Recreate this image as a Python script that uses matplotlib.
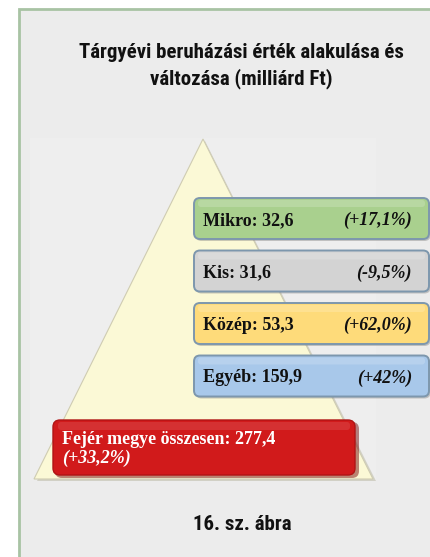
import matplotlib
matplotlib.use("Agg")
import matplotlib.pyplot as plt
from matplotlib import font_manager
from matplotlib.patches import Polygon, FancyBboxPatch, Rectangle

# data
title = "Tárgyévi beruházási érték alakulása és\nváltozása (milliárd Ft)"
caption = "16. sz. ábra"
categories = ["Mikro", "Kis", "Közép", "Egyéb"]
values = ["32,6", "31,6", "53,3", "159,9"]
changes = ["(+17,1%)", "(-9,5%)", "(+62,0%)", "(+42%)"]
box_colors = ["#a9d08e", "#d3d3d3", "#fedb7a", "#a8c8ea"]
total_label = "Fejér megye összesen"
total_value = "277,4"
total_change = "(+33,2%)"

# pick a narrow sans for the headings if one is installed
installed = {f.name for f in font_manager.fontManager.ttflist}
cond_name = "DejaVu Sans"
for name in ["Roboto Condensed", "Barlow Condensed", "Liberation Sans Narrow", "Archivo Narrow"]:
    if name in installed:
        cond_name = name
        break
cond = [cond_name, "DejaVu Sans"]
serif = ["Liberation Serif", "DejaVu Serif"]

W, H = 430, 557
fig = plt.figure(figsize=(W / 100, H / 100), dpi=100)
fig.patch.set_facecolor("white")
ax = fig.add_axes([0, 0, 1, 1])
ax.set_xlim(0, W)
ax.set_ylim(H, 0)
ax.axis("off")

# panel background and frame
ax.add_patch(Rectangle((19, 9), W, H, facecolor="#ececec", edgecolor="#a8c3a4", lw=2))
ax.add_patch(Rectangle((30, 138), 346, 342, facecolor="#eeeeee", edgecolor="none"))

ax.text(241, 66, title, ha="center", va="center", fontsize=15, fontweight="bold",
        family=cond, linespacing=1.4, color="#111111")

# pyramid
ax.add_patch(Polygon([(205, 141), (37, 481), (376, 481)], closed=True,
                     facecolor="#b8b5a0", edgecolor="none", alpha=0.5))
ax.add_patch(Polygon([(203, 139), (34, 479), (373, 479)], closed=True,
                     facecolor="#fbf9d6", edgecolor="#cfccb2", lw=0.8))

# category boxes
box_x, box_w, box_h, step, top = 194, 239, 45, 52.5, 198
for i, (cat, val, chg, col) in enumerate(zip(categories, values, changes, box_colors)):
    y = top + i * step
    ax.add_patch(FancyBboxPatch((box_x + 1.5, y + 2), box_w - 4, box_h - 4,
                                boxstyle="round,pad=0,rounding_size=6",
                                facecolor="#8a8a8a", edgecolor="none", alpha=0.45))
    ax.add_patch(FancyBboxPatch((box_x, y), box_w - 4, box_h - 4,
                                boxstyle="round,pad=0,rounding_size=6",
                                facecolor=col, edgecolor="#7d97ad", lw=1.4))
    ax.add_patch(FancyBboxPatch((box_x + 4, y + 2), box_w - 12, 7,
                                boxstyle="round,pad=0,rounding_size=3",
                                facecolor="white", edgecolor="none", alpha=0.18))
    cy = y + (box_h - 4) / 2 + 2
    ax.text(box_x + 9, cy, f"{cat}: {val}", ha="left", va="center", fontsize=13,
            fontweight="bold", family=serif, color="#111111")
    ax.text(box_x + 218, cy, chg, ha="right", va="center", fontsize=13,
            fontweight="bold", style="italic", family=serif, color="#111111")

# total box
ax.add_patch(FancyBboxPatch((55, 422), 304, 56, boxstyle="round,pad=0,rounding_size=7",
                            facecolor="#7a1010", edgecolor="none", alpha=0.5))
ax.add_patch(FancyBboxPatch((53, 420), 302, 55, boxstyle="round,pad=0,rounding_size=7",
                            facecolor="#d11a1b", edgecolor="#b01414", lw=1))
ax.add_patch(FancyBboxPatch((58, 422), 292, 8, boxstyle="round,pad=0,rounding_size=3",
                            facecolor="white", edgecolor="none", alpha=0.1))
ax.text(62, 440, f"{total_label}: {total_value}", ha="left", va="center", fontsize=13,
        fontweight="bold", family=serif, color="white")
ax.text(62, 458, total_change, ha="left", va="center", fontsize=13,
        fontweight="bold", style="italic", family=serif, color="white")

ax.text(242, 525, caption, ha="center", va="center", fontsize=15, fontweight="bold",
        family=cond, color="#111111")

fig.savefig("out.png", dpi=100, facecolor=fig.get_facecolor())
